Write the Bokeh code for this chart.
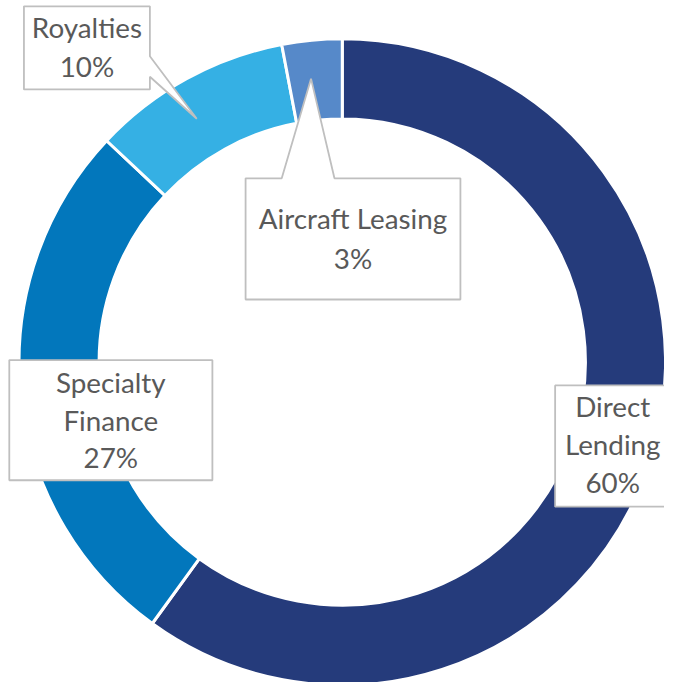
import math
from bokeh.plotting import figure
from bokeh.models import Range1d, ColumnDataSource
from bokeh.core.properties import value
from bokeh.embed import file_html
from bokeh.resources import INLINE

# ---- data ----
categories = ["Direct Lending", "Specialty Finance", "Royalties", "Aircraft Leasing"]
shares = [60, 27, 10, 3]
slice_colors = ["#253B7B", "#0277BC", "#35B0E4", "#5689C9"]
label_lines = [["Direct", "Lending"], ["Specialty", "Finance"], ["Royalties"], ["Aircraft Leasing"]]

# ---- layout (reference pixel space, y measured downward) ----
W_REF, H_REF = 680, 698
FIG_W, FIG_H = 664, 682
S = FIG_W / W_REF

def Y(ry):
    return H_REF - ry

CX, CY = 350, 370
R_OUT, R_IN = 331, 249

p = figure(width=FIG_W, height=FIG_H, output_backend="svg", toolbar_location=None,
           x_range=Range1d(0, W_REF), y_range=Range1d(0, H_REF),
           x_axis_location=None, y_axis_location=None, min_border=0)
p.grid.visible = False
p.outline_line_color = None
p.background_fill_color = "white"

total = sum(shares)
starts, ends = [], []
cum = 0.0
for v in shares:
    starts.append(math.pi / 2 - 2 * math.pi * cum / total)
    cum += v
    ends.append(math.pi / 2 - 2 * math.pi * cum / total)

src = ColumnDataSource(dict(x=[CX] * len(shares), y=[Y(CY)] * len(shares),
                            start=starts, end=ends, color=slice_colors))
p.annular_wedge(x="x", y="y", inner_radius=R_IN, outer_radius=R_OUT,
                start_angle="start", end_angle="end", direction="clock",
                fill_color="color", line_color="white", line_width=3, source=src)

# ---- label boxes (with callouts) ----
box_line = "#BFBFBF"
boxes = [
    # Direct Lending
    [(568, 394), (692, 394), (692, 518), (568, 518)],
    # Specialty Finance
    [(9, 368), (217, 368), (217, 491), (9, 491)],
    # Royalties with callout
    [(24, 6), (153, 6), (153, 57), (201, 121), (153, 78), (153, 91), (24, 91)],
    # Aircraft Leasing with callout
    [(251, 182), (288, 182), (318, 80), (342, 182), (471, 182), (471, 306), (251, 306)],
]
p.patches(xs=[[pt[0] for pt in b] for b in boxes],
          ys=[[Y(pt[1]) for pt in b] for b in boxes],
          fill_color="white", line_color=box_line, line_width=1.8)

# ---- label texts ----
centers_x = [627, 113, 88.5, 361]
text_centers_y = [[418, 456, 495], [393, 432, 470], [30, 70], [225, 266]]
font_sizes = [28.5, 28.5, 28.5, 28.5]
for i, cat in enumerate(categories):
    lines = label_lines[i] + [f"{shares[i]}%"]
    for ln, cy in zip(lines, text_centers_y[i]):
        p.text(x=[centers_x[i]], y=[Y(cy - 2)], text=[ln], text_align="center",
               text_baseline="alphabetic", text_font=value("Lato"),
               text_font_size=value(f"{font_sizes[i] * S:.1f}px"), text_color="#595959")

open("out.html", "w").write(file_html(p, INLINE))
